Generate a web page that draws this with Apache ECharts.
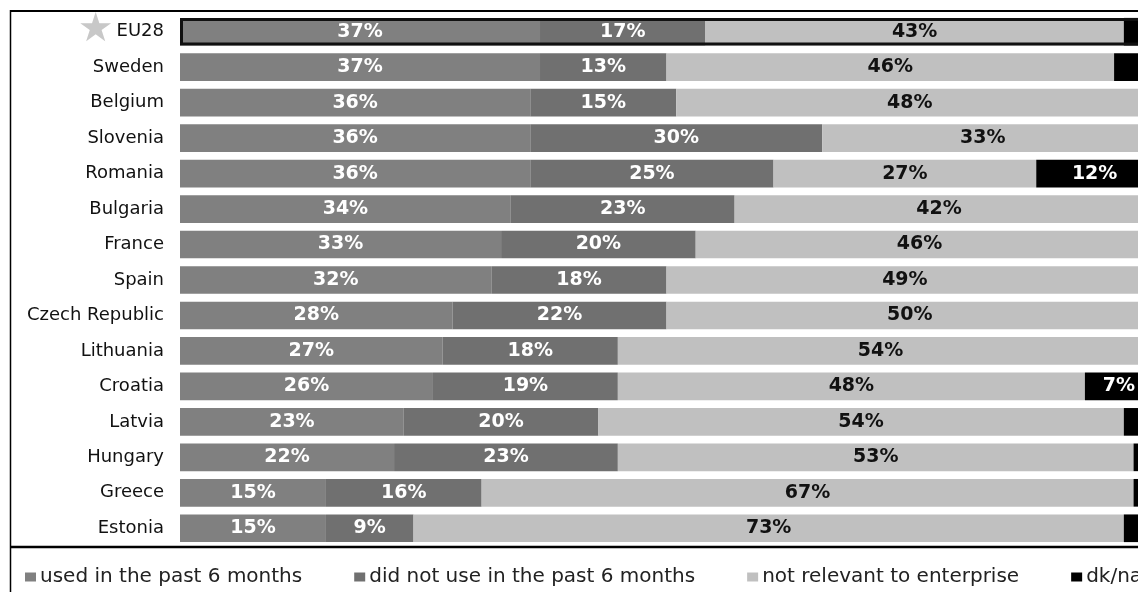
<!DOCTYPE html>
<html>
<head>
<meta charset="utf-8">
<script src="https://cdn.jsdelivr.net/npm/echarts@6/dist/echarts.min.js"></script>
<style>
  html, body { margin: 0; padding: 0; background: #fff; }
  #chart { width: 1138px; height: 592px; }
</style>
</head>
<body>
<div id="chart"></div>
<script>
// countries, top to bottom
const countries = ['EU28', 'Sweden', 'Belgium', 'Slovenia', 'Romania', 'Bulgaria', 'France', 'Spain',
    'Czech Republic', 'Lithuania', 'Croatia', 'Latvia', 'Hungary', 'Greece', 'Estonia'];

const usedPast6 = [37, 37, 36, 36, 36, 34, 33, 32, 28, 27, 26, 23, 22, 15, 15];
const notUsedPast6 = [17, 13, 15, 30, 25, 23, 20, 18, 22, 18, 19, 20, 23, 16, 9];
const notRelevant = [43, 46, 48, 33, 27, 42, 46, 49, 50, 54, 48, 54, 53, 67, 73];
const dkNa = [3, 4, 1, 1, 12, 1, 1, 1, 0, 1, 7, 3, 2, 2, 3];

const seriesNames = ['used in the past 6 months', 'did not use in the past 6 months',
    'not relevant to enterprise', 'dk/na'];

const chart = echarts.init(document.getElementById('chart'), null, {renderer: 'canvas'});

const labelFont = {fontFamily: 'DejaVu Sans', fontWeight: 'bold', fontSize: 19};
const pct = p => (p.value >= 5 ? p.value + '%' : '');

const mkSeries = (name, data, color, labelColor) => ({
    name: name,
    type: 'bar',
    stack: 'total',
    data: data,
    barCategoryGap: '22%',
    itemStyle: {color: color},
    label: Object.assign({show: true, position: 'inside', color: labelColor, formatter: pct}, labelFont)
});

// outline around the EU28 bar
const totals = countries.map((c, i) => usedPast6[i] + notUsedPast6[i] + notRelevant[i] + dkNa[i]);
const outline = totals.map((t, i) => (countries[i] === 'EU28' ? t : '-'));

chart.setOption({
    animation: false,
    grid: {left: 180, top: 14, width: 973, height: 532, outerBoundsMode: 'none'},
    xAxis: {type: 'value', min: 0, max: 100, show: false},
    yAxis: {
        type: 'category',
        data: countries,
        inverse: true,
        axisLine: {show: false},
        axisTick: {show: false},
        axisLabel: {
            margin: 16,
            fontFamily: 'DejaVu Sans',
            fontSize: 18,
            color: '#111',
            formatter: v => (v === 'EU28' ? '{star|★}' + v : v),
            rich: {star: {fontSize: 40, color: '#c8c8c8', padding: [0, 3, 3, 0]}}
        }
    },
    legend: {
        data: seriesNames,
        left: 20,
        top: 562,
        width: 1600,
        itemGap: 52,
        itemWidth: 11,
        itemHeight: 9,
        icon: 'rect',
        textStyle: {fontFamily: 'DejaVu Sans', fontSize: 20, color: '#222', padding: [0, 0, 0, -1]}
    },
    series: [
        mkSeries(seriesNames[0], usedPast6, '#808080', '#fff'),
        mkSeries(seriesNames[1], notUsedPast6, '#707070', '#fff'),
        mkSeries(seriesNames[2], notRelevant, '#c0c0c0', '#111'),
        mkSeries(seriesNames[3], dkNa, '#000', '#fff'),
        {
            name: 'outline',
            type: 'bar',
            data: outline,
            barGap: '-100%',
            z: 5,
            silent: true,
            itemStyle: {color: 'rgba(0,0,0,0)', borderColor: '#111', borderWidth: 3}
        }
    ],
    graphic: [
        {type: 'line', shape: {x1: 10, y1: 11, x2: 1138, y2: 11}, style: {stroke: '#000', lineWidth: 2}},
        {type: 'line', shape: {x1: 10.5, y1: 10, x2: 10.5, y2: 592}, style: {stroke: '#000', lineWidth: 1.5}},
        {type: 'line', shape: {x1: 10, y1: 547, x2: 1138, y2: 547}, style: {stroke: '#000', lineWidth: 2.5}}
    ]
});
</script>
</body>
</html>
